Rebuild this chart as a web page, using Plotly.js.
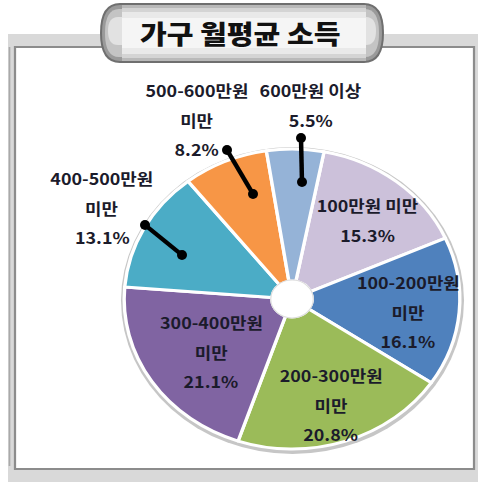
<!DOCTYPE html>
<html>
<head>
<meta charset="utf-8">
<script src="https://cdn.plot.ly/plotly-3.0.1.min.js"></script>
<style>
  html, body { margin: 0; padding: 0; background: #fff; overflow: hidden; }
  /* the source picture is stretched sideways, so draw narrow and stretch back */
  #chart { width: 429px; height: 482px; transform: scaleX(1.1189); transform-origin: 0 0; }
</style>
</head>
<body>
<div id="chart"></div>
<script>
const categories = ['100만원 미만', '100-200만원 미만', '200-300만원 미만', '300-400만원 미만',
                    '400-500만원 미만', '500-600만원 미만', '600만원 이상'];
const labelLines = [['100만원 미만'], ['100-200만원', '미만'], ['200-300만원', '미만'],
                    ['300-400만원', '미만'], ['400-500만원', '미만'], ['500-600만원', '미만'],
                    ['600만원 이상']];
const shares = [15.3, 16.1, 20.8, 21.1, 13.1, 8.2, 5.5];
const colors = ['#ccc1da', '#4f81bd', '#9bbb59', '#8064a2', '#4bacc6', '#f79646', '#95b3d7'];
const chartTitle = '가구 월평균 소득';

// everything below is in picture pixels (x 0..480, y 0..482 from the top)
const W = 480, H = 482, DIV_W = 429;
const CX = 292, CY = 299, R = 150, HOLE = 0.12;
const labelPos = [[368, 205], [408, 282], [331, 375], [211, 322], [102, 178], [197, 90], [311, 90]];
const LINE_STEP = 29.5;
const leaders = [[[145, 225], [182, 255]], [[227, 150], [253, 194]], [[301, 138], [302, 182]]];

const FONT = '"Noto Sans CJK KR", "Malgun Gothic", sans-serif';

function rect(x0, y0, x1, y1, fill, line) {
  return { type: 'rect', xref: 'x', yref: 'y', x0, y0, x1, y1, fillcolor: fill,
           line: line || { width: 0 }, layer: 'below' };
}
function capsule(x0, y0, x1, y1, rx, fill) {
  const m = (y0 + y1) / 2;
  const path = `M${x0 + rx},${y0} L${x1 - rx},${y0} Q${x1},${y0} ${x1},${m} Q${x1},${y1} ${x1 - rx},${y1}` +
               ` L${x0 + rx},${y1} Q${x0},${y1} ${x0},${m} Q${x0},${y0} ${x0 + rx},${y0} Z`;
  return { type: 'path', xref: 'x', yref: 'y', path, fillcolor: fill, line: { width: 0 }, layer: 'below' };
}

const holeRy = R * HOLE + 1, holeRx = holeRy * W / DIV_W;
const shapes = [
  // frame
  rect(8, 34, 478, 482, '#d9d9d9'),
  { type: 'line', xref: 'x', yref: 'y', x0: 9.5, x1: 9.5, y0: 47, y1: 466,
    line: { color: '#a9a9a9', width: 1.5 }, layer: 'below' },
  rect(15, 47, 474, 469, '#ffffff', { color: '#8c8c8c', width: 2 }),
  // title banner
  capsule(100, 3, 384, 63, 20, '#6f6f6f'),
  capsule(102, 5, 382, 61, 18, '#9a9a9a'),
  capsule(105, 9, 379, 57, 14, '#c4c4c4'),
  capsule(108, 17, 376, 45, 10, '#e2e2e2'),
  rect(122, 5, 366, 61, '#b9b9b9'),
  rect(122, 8, 366, 58, '#d4d4d4'),
  rect(122, 12, 366, 54, '#e9e9e9'),
  rect(122, 18, 366, 48, '#f5f5f5'),
  // pie shadow
  { type: 'circle', xref: 'x', yref: 'y', x0: CX - 171, x1: CX + 172, y0: CY - 152, y1: CY + 155,
    fillcolor: '#c6c6c6', line: { width: 0 }, layer: 'below' },
  // white centre of the ring
  { type: 'circle', xref: 'x', yref: 'y', x0: CX - holeRx, x1: CX + holeRx, y0: CY - holeRy, y1: CY + holeRy,
    fillcolor: '#ffffff', line: { color: '#dcdcdc', width: 1 }, layer: 'above' },
];

leaders.forEach(([a, b]) => {
  shapes.push({ type: 'line', xref: 'x', yref: 'y', x0: a[0], y0: a[1], x1: b[0], y1: b[1],
                line: { color: '#000', width: 4 }, layer: 'above' });
  [a, b].forEach(p => shapes.push({ type: 'circle', xref: 'x', yref: 'y',
    x0: p[0] - 5, x1: p[0] + 5, y0: p[1] - 5, y1: p[1] + 5,
    fillcolor: '#000', line: { width: 0 }, layer: 'above' }));
});

const annotations = [{
  xref: 'x', yref: 'y', x: 240, y: 32, text: chartTitle, showarrow: false,
  font: { family: FONT, size: 26, weight: 900, color: '#111' },
}];
categories.forEach((c, i) => {
  const lines = labelLines[i].concat([shares[i].toFixed(1) + '%']);
  lines.forEach((t, j) => annotations.push({
    xref: 'x', yref: 'y', x: labelPos[i][0], y: labelPos[i][1] + j * LINE_STEP,
    text: t, showarrow: false, xanchor: 'center', yanchor: 'middle',
    font: { family: FONT, size: 16, weight: 700, color: '#1b1b2b' },
  }));
});

const halfX = R / DIV_W, halfY = R / H;
Plotly.newPlot('chart', [
  { type: 'scatter', x: [], y: [], hoverinfo: 'skip', showlegend: false },
  {
    type: 'pie', labels: categories, values: shares, sort: false,
    direction: 'clockwise', rotation: 11, hole: HOLE,
    marker: { colors: colors, line: { color: '#fff', width: 3 } },
    textinfo: 'none', hoverinfo: 'label+percent', showlegend: false,
    domain: { x: [CX / W - halfX, CX / W + halfX], y: [1 - CY / H - halfY, 1 - CY / H + halfY] },
  },
], {
  width: DIV_W, height: H,
  margin: { l: 0, r: 0, t: 0, b: 0 },
  paper_bgcolor: '#fff', plot_bgcolor: 'rgba(0,0,0,0)',
  showlegend: false,
  xaxis: { range: [0, W], visible: false, fixedrange: true },
  yaxis: { range: [H, 0], visible: false, fixedrange: true },
  shapes, annotations,
}, { displayModeBar: false, staticPlot: true });
</script>
</body>
</html>
